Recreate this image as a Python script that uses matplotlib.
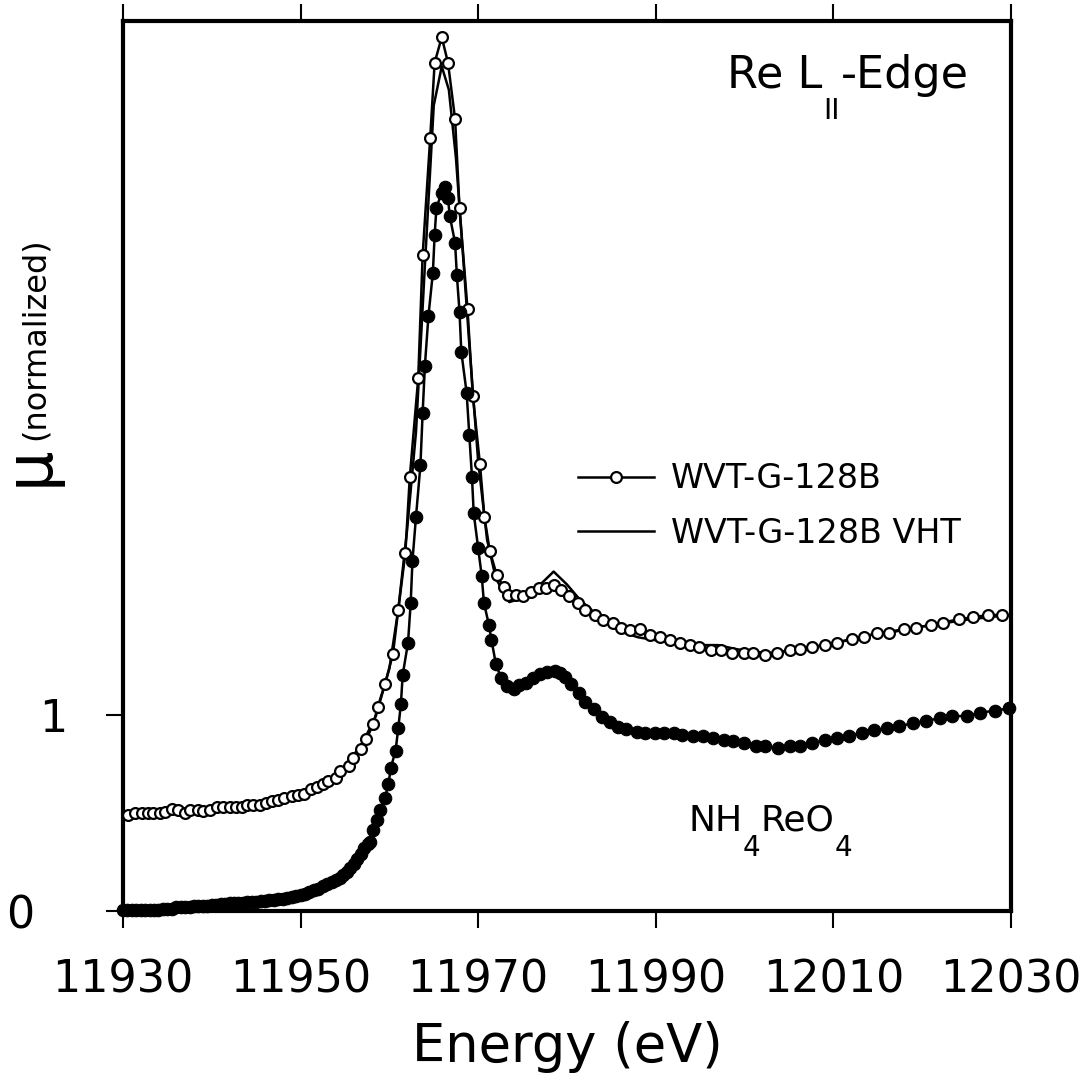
import matplotlib
matplotlib.use('Agg')
import matplotlib.pyplot as plt
from matplotlib.lines import Line2D
from matplotlib.transforms import ScaledTranslation

plt.rcParams['font.family'] = 'DejaVu Sans'
plt.rcParams['axes.linewidth'] = 3.0

# NH4ReO4 reference (filled circles)
nh4_E = [11930.0, 11930.5, 11931.0, 11931.5, 11932.0, 11932.5, 11933.0, 11933.5, 11934.0, 11934.5,
         11935.0, 11935.5, 11936.0, 11936.5, 11937.0, 11937.5, 11938.0, 11938.5, 11939.0, 11939.5,
         11940.0, 11940.5, 11941.0, 11941.5, 11942.0, 11942.5, 11943.0, 11943.5, 11944.0, 11944.5,
         11945.0, 11945.5, 11946.0, 11946.5, 11947.0, 11947.5, 11948.0, 11948.5, 11949.0, 11949.5,
         11950.0, 11950.5, 11951.0, 11951.5, 11952.0, 11952.5, 11953.0, 11953.5, 11954.0, 11954.4,
         11954.8, 11955.2, 11955.6, 11956.0, 11956.4, 11956.8, 11957.2, 11957.6, 11957.8, 11958.2,
         11958.6, 11959.0, 11959.5, 11959.9, 11960.15, 11960.7, 11961.0, 11961.3, 11961.5, 11962.1,
         11962.4, 11962.6, 11963.0, 11963.5, 11963.75, 11964.0, 11964.4, 11964.9, 11965.1, 11965.3,
         11965.9, 11966.25, 11966.6, 11966.8, 11967.4, 11967.6, 11967.9, 11968.1, 11968.7, 11969.0,
         11969.3, 11969.5, 11970.0, 11970.4, 11970.65, 11971.2, 11971.5, 11972.0, 11972.6, 11973.3,
         11974.0, 11974.6, 11975.4, 11976.2, 11977.0, 11977.8, 11978.6, 11979.2, 11979.8, 11980.5,
         11981.3, 11982.0, 11983.0, 11983.9, 11984.8, 11985.8, 11986.7, 11987.9, 11988.8, 11989.9,
         11990.9, 11992.0, 11993.0, 11994.2, 11995.3, 11996.5, 11997.7, 11998.7, 11999.9, 12001.3,
         12002.3, 12003.8, 12005.1, 12006.2, 12007.6, 12009.1, 12010.4, 12011.8, 12013.2, 12014.6,
         12016.0, 12017.4, 12019.0, 12020.4, 12022.0, 12023.4, 12025.1, 12026.5, 12028.2, 12029.8]
nh4_mu = [0.005, 0.005, 0.004, 0.006, 0.005, 0.006, 0.005, 0.007, 0.006, 0.008,
          0.008, 0.012, 0.020, 0.020, 0.022, 0.022, 0.024, 0.025, 0.026, 0.028,
          0.030, 0.032, 0.034, 0.036, 0.039, 0.040, 0.042, 0.043, 0.045, 0.046,
          0.047, 0.049, 0.052, 0.055, 0.058, 0.060, 0.063, 0.066, 0.071, 0.076,
          0.082, 0.088, 0.096, 0.105, 0.115, 0.126, 0.137, 0.148, 0.160, 0.170,
          0.185, 0.200, 0.220, 0.240, 0.265, 0.292, 0.320, 0.345, 0.354, 0.414,
          0.465, 0.517, 0.580, 0.648, 0.730, 0.820, 0.934, 1.059, 1.207, 1.372,
          1.574, 1.790, 2.017, 2.281, 2.549, 2.788, 3.043, 3.265, 3.458, 3.597,
          3.674, 3.705, 3.647, 3.555, 3.418, 3.253, 3.065, 2.861, 2.651, 2.435,
          2.222, 2.034, 1.855, 1.714, 1.577, 1.465, 1.386, 1.262, 1.190, 1.152,
          1.134, 1.156, 1.168, 1.193, 1.211, 1.224, 1.229, 1.219, 1.198, 1.161,
          1.114, 1.071, 1.032, 0.994, 0.968, 0.943, 0.929, 0.917, 0.909, 0.912,
          0.912, 0.912, 0.900, 0.895, 0.895, 0.883, 0.875, 0.871, 0.858, 0.844,
          0.844, 0.832, 0.844, 0.844, 0.858, 0.875, 0.883, 0.895, 0.912, 0.926,
          0.934, 0.946, 0.960, 0.973, 0.986, 0.997, 0.997, 1.014, 1.025, 1.037]

# WVT-G-128B (open circles)
wvt_E = [11930.6, 11931.35, 11932.1, 11932.85, 11933.4, 11934.2, 11934.7, 11935.5, 11936.2, 11937.0,
         11937.6, 11938.4, 11939.0, 11939.8, 11940.6, 11941.3, 11942.0, 11942.7, 11943.4, 11944.0,
         11944.7, 11945.4, 11946.1, 11946.8, 11947.5, 11948.1, 11949.0, 11949.7, 11950.4, 11951.2,
         11951.8, 11952.5, 11953.1, 11954.0, 11954.4, 11955.4, 11955.9, 11956.8, 11957.4, 11958.2,
         11958.7, 11959.5, 11960.4, 11961.0, 11961.8, 11962.3, 11963.25, 11963.75, 11964.6, 11965.1,
         11965.9, 11966.6, 11967.4, 11967.9, 11968.8, 11969.4, 11970.2, 11970.7, 11971.3, 11972.1,
         11972.9, 11973.4, 11974.3, 11975.1, 11975.9, 11976.9, 11977.6, 11978.5, 11979.3, 11980.2,
         11981.2, 11982.0, 11983.2, 11984.1, 11985.2, 11986.1, 11987.1, 11988.2, 11989.4, 11990.5,
         11991.6, 11992.7, 11993.8, 11994.9, 11996.2, 11997.3, 11998.6, 11999.9, 12001.0, 12002.3,
         12003.7, 12005.1, 12006.2, 12007.6, 12009.1, 12010.4, 12012.1, 12013.5, 12014.9, 12016.3,
         12017.9, 12019.3, 12021.0, 12022.3, 12024.1, 12025.7, 12027.4, 12029.0]
wvt_mu = [0.491, 0.500, 0.503, 0.503, 0.503, 0.500, 0.508, 0.520, 0.517, 0.500,
          0.517, 0.517, 0.513, 0.517, 0.530, 0.530, 0.530, 0.530, 0.530, 0.542,
          0.542, 0.542, 0.554, 0.564, 0.568, 0.576, 0.588, 0.593, 0.598, 0.622,
          0.633, 0.650, 0.666, 0.679, 0.718, 0.742, 0.781, 0.827, 0.878, 0.957,
          1.045, 1.160, 1.313, 1.540, 1.830, 2.218, 2.726, 3.356, 3.954, 4.339,
          4.469, 4.339, 4.051, 3.596, 3.079, 2.634, 2.286, 2.017, 1.843, 1.717,
          1.655, 1.615, 1.615, 1.611, 1.630, 1.651, 1.651, 1.668, 1.642, 1.611,
          1.577, 1.540, 1.514, 1.488, 1.471, 1.449, 1.437, 1.441, 1.412, 1.400,
          1.386, 1.369, 1.361, 1.349, 1.335, 1.335, 1.321, 1.321, 1.321, 1.309,
          1.321, 1.335, 1.339, 1.349, 1.361, 1.372, 1.390, 1.400, 1.424, 1.420,
          1.441, 1.449, 1.463, 1.475, 1.492, 1.502, 1.514, 1.514]

# WVT-G-128B VHT (line only)
vht_E = [11930.0, 11935.0, 11940.0, 11945.0, 11950.0, 11953.0, 11955.0, 11957.0, 11958.5, 11960.0,
         11961.0, 11962.0, 11963.0, 11964.0, 11965.0, 11965.9, 11966.7, 11967.5, 11968.3, 11969.0,
         11970.0, 11971.0, 11972.0, 11973.5, 11975.0, 11977.0, 11978.5, 11980.0, 11981.5, 11984.0,
         11986.0, 11988.0, 11990.0, 11992.0, 11994.0, 11997.0, 11999.0, 12001.0, 12003.0, 12006.0,
         12010.0, 12015.0, 12020.0, 12025.0, 12030.0]
vht_mu = [0.49, 0.51, 0.52, 0.54, 0.60, 0.66, 0.74, 0.86, 1.00, 1.24,
          1.54, 1.95, 2.45, 3.30, 4.12, 4.32, 4.20, 3.85, 3.35, 2.90,
          2.30, 1.90, 1.70, 1.58, 1.60, 1.67, 1.736, 1.67, 1.59, 1.49,
          1.43, 1.40, 1.385, 1.37, 1.36, 1.36, 1.34, 1.325, 1.32, 1.335,
          1.37, 1.42, 1.455, 1.49, 1.515]

xticks = [11930, 11950, 11970, 11990, 12010, 12030]
yticks = [0, 1]

fig = plt.figure(figsize=(10.9, 10.87), dpi=100)
ax = fig.add_axes([0.1128, 0.1619, 0.8147, 0.8188])

ax.plot(vht_E, vht_mu, color='k', lw=1.8, zorder=2, clip_on=False)
ax.plot(wvt_E, wvt_mu, color='k', lw=1.8, marker='o', ms=7.8, mfc='white', mec='k', mew=1.6,
        zorder=3, clip_on=False)
ax.plot(nh4_E, nh4_mu, color='k', lw=1.8, marker='o', ms=9.0, mfc='k', mec='k', mew=0.8,
        zorder=3, clip_on=False)

ax.set_xlim(11930, 12030)
ax.set_ylim(0, 4.552)
ax.set_xticks(xticks)
ax.set_yticks(yticks)
ax.tick_params(axis='x', which='both', direction='out', top=True, bottom=True, length=12, width=1.5,
               labelsize=32, pad=22)
ax.tick_params(axis='y', direction='out', left=True, right=False, length=12, width=1.5,
               labelsize=32, pad=28)
ax.set_xlabel('Energy (eV)', fontsize=38, labelpad=14)

# the "0" label sits further left in the original
zero_lbl = ax.yaxis.get_major_ticks()[0].label1
zero_lbl.set_transform(zero_lbl.get_transform() + ScaledTranslation(-0.33, 0, fig.dpi_scale_trans))

# y label: big mu + (normalized)
mu_t = ax.text(-0.105, 0.50, 'μ', transform=ax.transAxes, rotation=90, fontsize=46,
               ha='center', va='center')
ax.annotate('(normalized)', xy=(0.5, 1), xycoords=mu_t, xytext=(4, 4), textcoords='offset points',
            rotation=90, fontsize=23, ha='center', va='bottom')

# title-like label: Re L_II-Edge
t1 = ax.text(11998.0, 4.21, 'Re L', fontsize=32, va='baseline')
t2 = ax.annotate('II', xy=(1, 0), xycoords=t1, xytext=(1, 0), textcoords='offset points',
                 fontsize=20, va='top')
ax.annotate('-Edge', xy=(1, 0), xycoords=(t2, t1), xytext=(1, 0), textcoords='offset points',
            fontsize=32, va='bottom')

# NH4ReO4 label
n1 = ax.text(11993.7, 0.41, 'NH', fontsize=26, va='baseline')
n2 = ax.annotate('4', xy=(1, 0), xycoords=n1, xytext=(0, 3), textcoords='offset points',
                 fontsize=20, va='top')
n3 = ax.annotate('ReO', xy=(1, 0), xycoords=(n2, n1), xytext=(0, 0), textcoords='offset points',
                 fontsize=26, va='bottom')
ax.annotate('4', xy=(1, 0), xycoords=n3, xytext=(0, 3), textcoords='offset points',
            fontsize=20, va='top')

handles = [Line2D([], [], color='k', lw=1.8, marker='o', ms=7.8, mfc='white', mec='k', mew=1.6),
           Line2D([], [], color='k', lw=1.8)]
ax.legend(handles, ['WVT-G-128B', 'WVT-G-128B VHT'], loc='upper left', bbox_to_anchor=(0.512, 0.504),
          frameon=False, fontsize=24, handlelength=2.3, handletextpad=0.5, labelspacing=0.64,
          borderpad=0, borderaxespad=0, numpoints=1)

plt.savefig('out.png', dpi=100)
